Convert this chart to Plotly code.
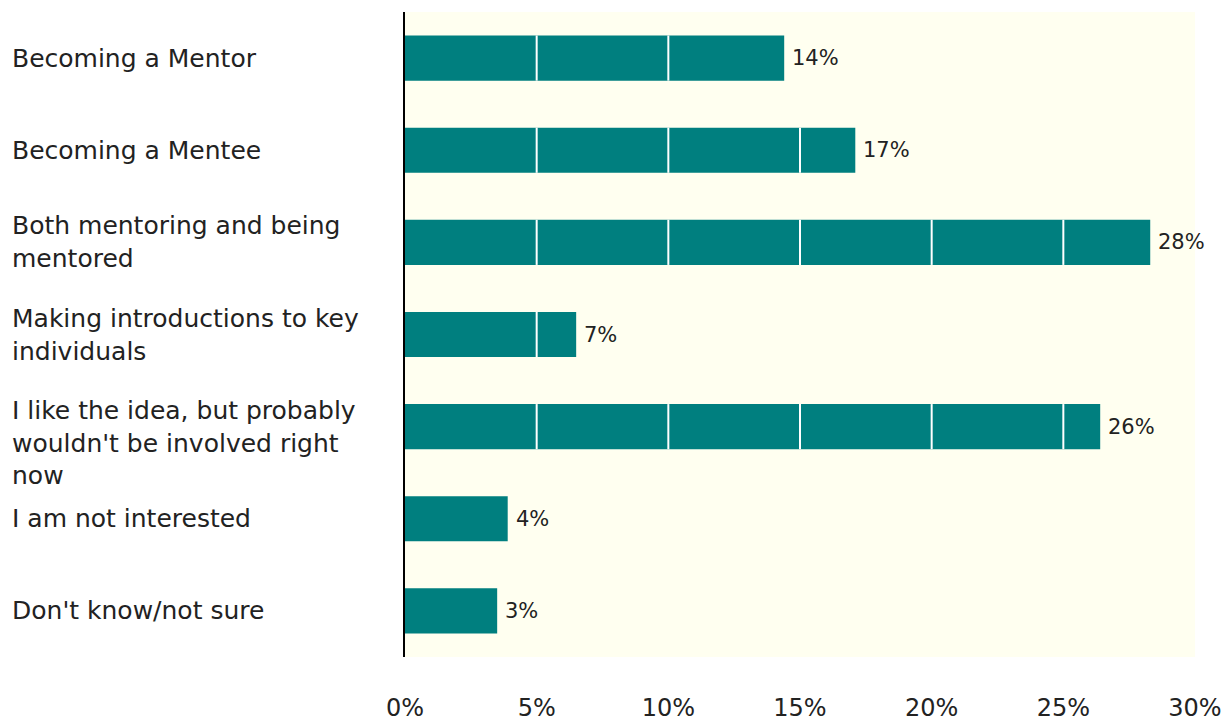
import plotly.graph_objects as go

categories = [
    "Becoming a Mentor",
    "Becoming a Mentee",
    "Both mentoring and being<br>mentored",
    "Making introductions to key<br>individuals",
    "I like the idea, but probably<br>wouldn't be involved right<br>now",
    "I am not interested",
    "Don't know/not sure",
]
values = [14.4, 17.1, 28.3, 6.5, 26.4, 3.9, 3.5]
value_labels = ["14%", "17%", "28%", "7%", "26%", "4%", "3%"]
tick_vals = [0, 5, 10, 15, 20, 25, 30]
tick_text = ["0%", "5%", "10%", "15%", "20%", "25%", "30%"]

FONT = "Verdana, DejaVu Sans, sans-serif"
TEAL = "#007f7f"
BAR_WIDTH = 0.49

fig = go.Figure()
fig.add_trace(go.Bar(
    x=values,
    y=categories,
    orientation="h",
    width=BAR_WIDTH,
    marker=dict(color=TEAL, line=dict(width=0)),
    hoverinfo="skip",
))

# category labels, left aligned
for c in categories:
    nlines = c.count("<br>") + 1
    fig.add_annotation(
        x=0, xref="paper", y=c, yref="y",
        text=c, showarrow=False,
        xanchor="left", align="left",
        xshift=-395,
        yshift=-16 if nlines == 3 else 0,
        font=dict(family=FONT, size=25, color="#222222"),
    )

# value labels at bar ends
for c, v, t in zip(categories, values, value_labels):
    fig.add_annotation(
        x=v, xref="x", y=c, yref="y",
        text=t, showarrow=False,
        xanchor="left", xshift=6,
        font=dict(family=FONT, size=21, color="#222222"),
    )

# white grid lines visible only across the bars
n = len(categories)
for i, v in enumerate(values):
    pos = n - 1 - i  # index of this category on the (reversed) axis
    for t in tick_vals[1:-1]:
        if t < v:
            fig.add_shape(
                type="line", xref="x", yref="y",
                x0=t, x1=t,
                y0=pos - BAR_WIDTH / 2, y1=pos + BAR_WIDTH / 2,
                line=dict(color="white", width=2),
                layer="above",
            )

fig.update_layout(
    template="none",
    width=1227, height=724,
    margin=dict(l=405, r=32, t=12, b=67, pad=0, autoexpand=False),
    paper_bgcolor="white",
    plot_bgcolor="#FFFFF0",
    showlegend=False,
    xaxis=dict(
        range=[0, 30],
        tickvals=tick_vals,
        ticktext=tick_text,
        showgrid=False,
        zeroline=False,
        showline=False,
        automargin=False,
        ticks="",
        ticklabelstandoff=34,
        tickfont=dict(family=FONT, size=24, color="#222222"),
        fixedrange=True,
    ),
    yaxis=dict(
        categoryorder="array",
        categoryarray=categories[::-1],
        range=[-0.5, n - 0.5],
        showticklabels=False,
        showgrid=False,
        zeroline=False,
        showline=True,
        automargin=False,
        linecolor="black",
        linewidth=2,
        ticks="",
        fixedrange=True,
    ),
)

fig.write_html(
    "out.html",
    config={"displayModeBar": False},
    post_script="document.body.style.margin='0';document.body.style.overflow='hidden';",
)
